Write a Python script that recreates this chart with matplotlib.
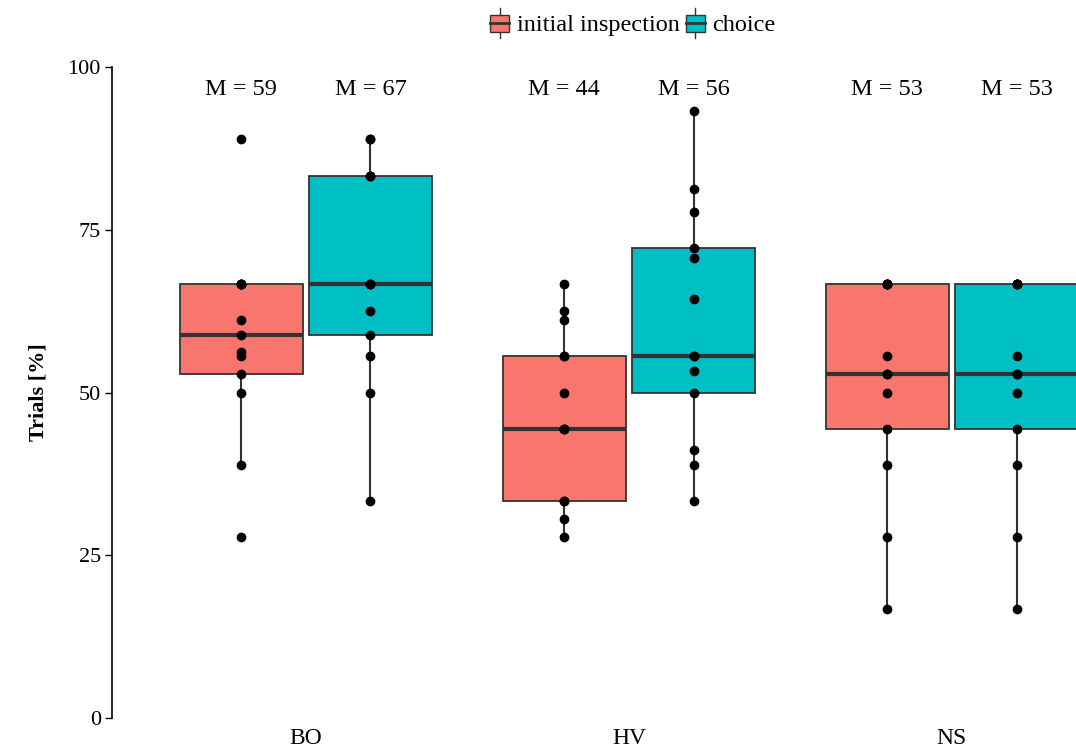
import matplotlib
matplotlib.use("Agg")
import matplotlib.pyplot as plt
import numpy as np
from matplotlib.patches import Rectangle, Patch
from matplotlib.lines import Line2D
from matplotlib.legend_handler import HandlerBase

plt.rcParams['font.family'] = ['Liberation Serif', 'DejaVu Serif']

# values (% trials), duplicates where points overlap
groups = ["BO", "HV", "NS"]
conditions = ["initial inspection", "choice"]
colors = ["#F8766D", "#00BFC4"]

bo_initial = [27.8, 38.9, 50.0, 52.9, 55.6, 56.2, 58.8, 61.1, 66.7, 66.7, 66.7, 66.7, 88.9]
bo_choice = [33.3, 50.0, 55.6, 58.8, 62.5, 66.7, 66.7, 66.7, 83.3, 83.3, 83.3, 88.9, 88.9]
hv_initial = [27.8, 30.6, 33.3, 33.3, 44.4, 44.4, 44.4, 50.0, 55.6, 55.6, 61.1, 62.5, 66.7]
hv_choice = [33.3, 38.9, 41.2, 50.0, 53.3, 55.6, 55.6, 64.3, 70.6, 72.2, 77.8, 81.2, 93.3]
ns_initial = [16.7, 27.8, 38.9, 44.4, 50.0, 52.8, 52.8, 55.6, 66.7, 66.7, 66.7, 66.7, 66.7]
ns_choice = [16.7, 27.8, 38.9, 44.4, 50.0, 52.8, 52.8, 55.6, 66.7, 66.7, 66.7, 66.7, 66.7]

data = [[bo_initial, bo_choice], [hv_initial, hv_choice], [ns_initial, ns_choice]]
means = [[59, 67], [44, 56], [53, 53]]

dodge = 0.2
box_w = 0.38
edge = "#333333"


class BoxKey(HandlerBase):
    def create_artists(self, legend, orig_handle, xdescent, ydescent,
                       width, height, fontsize, trans):
        x0, y0 = -xdescent, -ydescent
        xm = x0 + width / 2
        b0, b1 = y0 + 0.22 * height, y0 + 0.78 * height
        lo = Line2D([xm, xm], [y0, b0], color=edge, lw=1, transform=trans)
        hi = Line2D([xm, xm], [b1, y0 + height], color=edge, lw=1, transform=trans)
        rect = Rectangle((x0, b0), width, b1 - b0,
                         facecolor=orig_handle.get_facecolor(), edgecolor=edge,
                         lw=1, transform=trans)
        med = Line2D([x0, x0 + width], [y0 + 0.5 * height] * 2, color=edge, lw=2, transform=trans)
        return [lo, hi, rect, med]


fig = plt.figure(figsize=(10.76, 7.49), dpi=100)
ax = fig.add_axes([0.1041, 0.0414, 0.8959, 0.8691])

for gi, g in enumerate(groups):
    for ci in range(2):
        vals = data[gi][ci]
        pos = gi + 1 + (ci - 0.5) * 2 * dodge
        ax.boxplot([vals], positions=[pos], widths=box_w, patch_artist=True,
                   showfliers=False, showcaps=False, whis=1.5,
                   boxprops=dict(facecolor=colors[ci], edgecolor=edge, linewidth=1.3),
                   medianprops=dict(color=edge, linewidth=3),
                   whiskerprops=dict(color=edge, linewidth=1.5),
                   zorder=2)
        ax.plot([pos] * len(vals), vals, "o", color="black", ms=6, zorder=3)
        ax.text(pos, 96.6, "M = %d" % means[gi][ci], ha="center", va="center", fontsize=17.5)

ax.set_xlim(0.4, 3.384)
ax.set_ylim(0, 100)
ax.set_xticks([1, 2, 3])
ax.set_xticklabels(groups, fontsize=17)
ax.set_yticks([0, 25, 50, 75, 100])
ax.set_yticklabels(["0", "25", "50", "75", "100"], fontsize=16)
ax.tick_params(axis="x", length=0, pad=7)
ax.tick_params(axis="y", length=5, width=1, pad=3)
ax.set_ylabel("Trials [%]", fontsize=16, fontweight="bold", labelpad=14)

for s in ["top", "right", "bottom"]:
    ax.spines[s].set_visible(False)
ax.spines["left"].set_linewidth(1.2)

handles = [Patch(facecolor=colors[0]), Patch(facecolor=colors[1])]
fig.legend(handles, conditions, loc="upper center", bbox_to_anchor=(0.588, 1.005),
           ncol=2, frameon=False, fontsize=17.5, handler_map={Patch: BoxKey()},
           handlelength=0.8, handleheight=1.5, handletextpad=0.3, columnspacing=0.25,
           borderaxespad=0.1)

fig.savefig("out.png", dpi=100)
